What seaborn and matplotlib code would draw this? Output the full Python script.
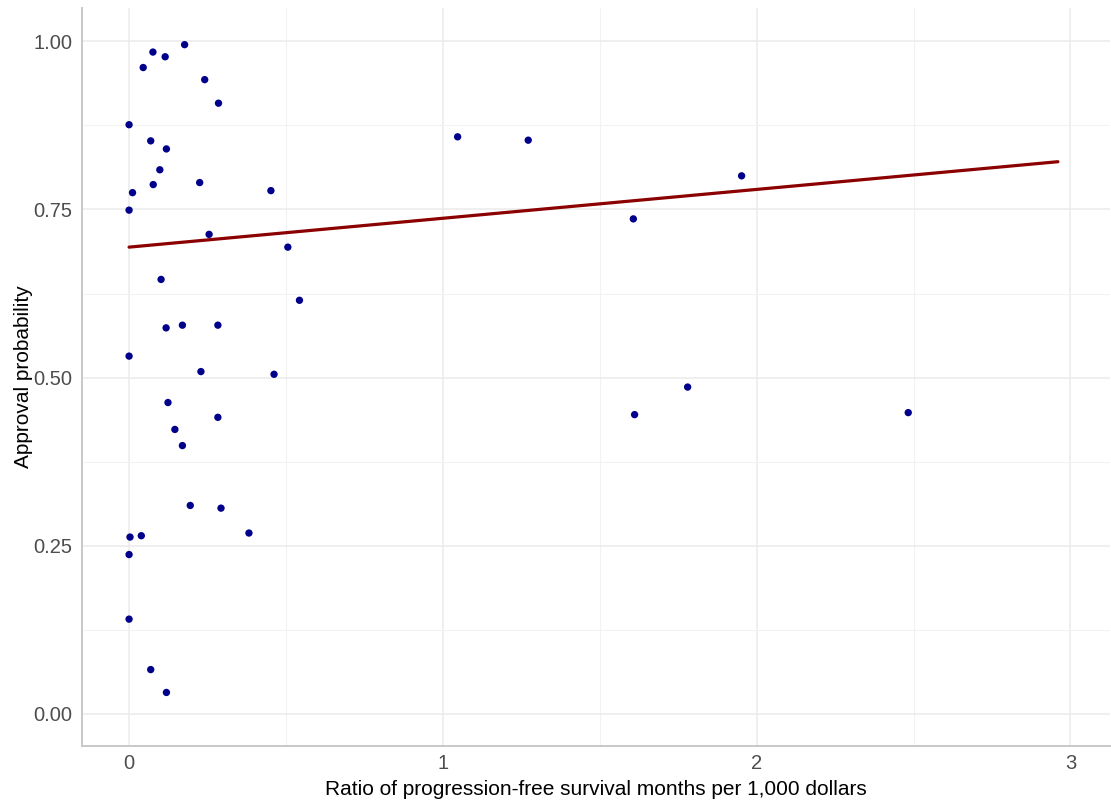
import matplotlib
matplotlib.use("Agg")
import matplotlib.pyplot as plt
from matplotlib.ticker import MultipleLocator, FixedLocator
import seaborn as sns
import pandas as pd

ratio = [0.177, 0.076, 0.115, 0.045, 0.241, 0.285, 0.000, 0.069, 0.119, 0.098,
         0.077, 0.225, 0.452, 0.011, 0.000, 0.255, 0.506, 0.543, 0.102, 0.118,
         0.170, 0.283, 0.000, 0.229, 0.462, 0.124, 0.146, 0.170, 0.283, 0.195,
         0.293, 0.382, 0.003, 0.039, 0.000, 0.000, 0.069, 0.119,
         1.047, 1.272, 1.952, 1.607, 1.611, 1.780, 2.483]
approval = [0.995, 0.984, 0.977, 0.961, 0.943, 0.908, 0.876, 0.852, 0.840, 0.809,
            0.787, 0.790, 0.778, 0.775, 0.749, 0.713, 0.694, 0.615, 0.646, 0.574,
            0.578, 0.578, 0.532, 0.509, 0.505, 0.463, 0.423, 0.399, 0.441, 0.310,
            0.306, 0.269, 0.263, 0.265, 0.237, 0.141, 0.066, 0.032,
            0.858, 0.853, 0.800, 0.736, 0.445, 0.486, 0.448]

fit_x = [0.0, 2.96]
fit_y = [0.694, 0.821]

x_ticks = [0, 1, 2, 3]
x_labels = ["0", "1", "2", "3"]
y_ticks = [0.00, 0.25, 0.50, 0.75, 1.00]
y_labels = ["0.00", "0.25", "0.50", "0.75", "1.00"]

df = pd.DataFrame({"ratio": ratio, "approval": approval})
fit = pd.DataFrame({"x": fit_x, "y": fit_y})

sns.set_theme(style="white")
plt.rcParams["font.family"] = ["Liberation Sans", "DejaVu Sans"]

fig = plt.figure(figsize=(11.11, 8.02), dpi=100)
ax = fig.add_axes([82 / 1111, 1 - 746 / 802, (1110 - 82) / 1111, (746 - 8) / 802])

sns.lineplot(data=fit, x="x", y="y", color="#8B0000", linewidth=2.3, ax=ax, zorder=2)
sns.scatterplot(data=df, x="ratio", y="approval", color="#00008B", s=28,
                edgecolor="none", ax=ax, zorder=3)

ax.set_xlim(-0.150, 3.126)
ax.set_ylim(-0.0476, 1.0495)
ax.xaxis.set_major_locator(FixedLocator(x_ticks))
ax.set_xticklabels(x_labels)
ax.yaxis.set_major_locator(FixedLocator(y_ticks))
ax.set_yticklabels(y_labels)
ax.xaxis.set_minor_locator(MultipleLocator(0.5))
ax.yaxis.set_minor_locator(MultipleLocator(0.125))

ax.grid(which="major", color="#ebebeb", linewidth=1.1, zorder=0)
ax.grid(which="minor", color="#f2f2f2", linewidth=0.8, zorder=0)
ax.set_axisbelow(True)

for side in ["top", "right"]:
    ax.spines[side].set_visible(False)
for side in ["left", "bottom"]:
    ax.spines[side].set_visible(True)
    ax.spines[side].set_color("#c8c8c8")
    ax.spines[side].set_linewidth(1.4)

ax.tick_params(which="both", length=0)
ax.tick_params(axis="both", labelsize=14.5, labelcolor="#4d4d4d")
ax.tick_params(axis="y", pad=7)
ax.tick_params(axis="x", pad=6)

ax.set_xlabel("Ratio of progression-free survival months per 1,000 dollars",
              fontsize=15, color="black", labelpad=5)
ax.set_ylabel("Approval probability", fontsize=15, color="black", labelpad=0)

fig.savefig("out.png", dpi=100, facecolor="white")
